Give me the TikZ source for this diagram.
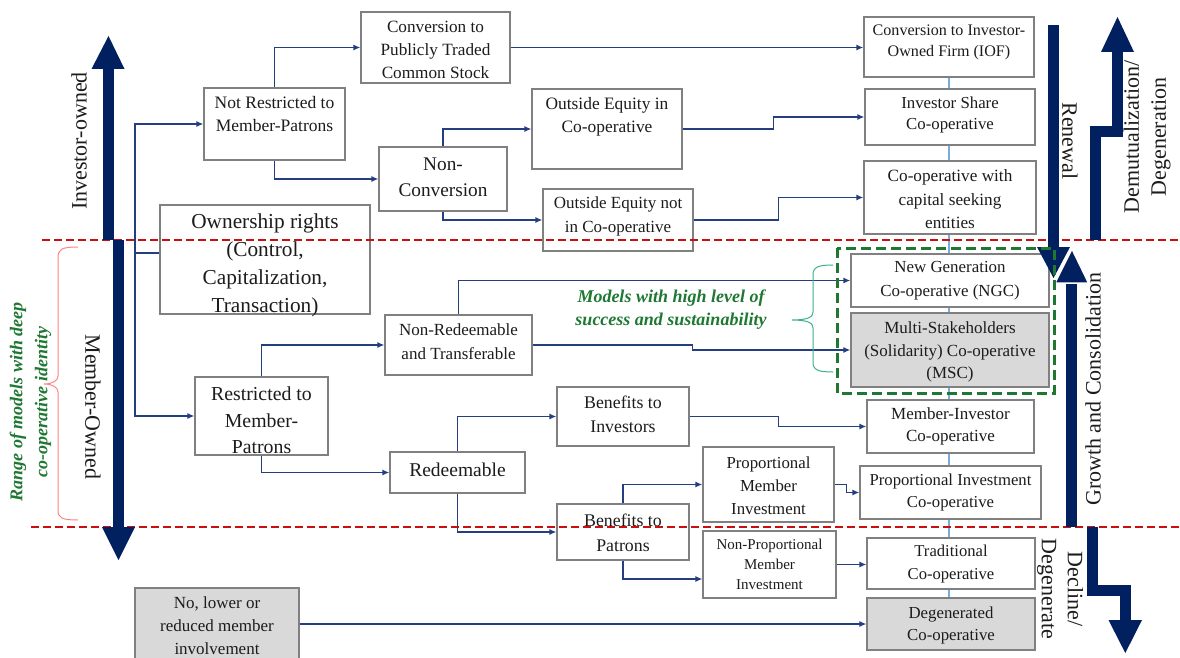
\documentclass[tikz,border=0pt]{standalone}
\usepackage{fontspec}
\setmainfont{Liberation Serif}
\usetikzlibrary{arrows.meta,calc,fit,backgrounds}

\definecolor{navy}{RGB}{0,32,96}
\definecolor{connc}{RGB}{36,62,128}
\definecolor{boxline}{RGB}{128,128,128}
\definecolor{boxgrey}{RGB}{217,217,217}
\definecolor{cutred}{RGB}{200,16,16}
\definecolor{deepgreen}{RGB}{30,120,50}
\definecolor{bracegreen}{RGB}{60,176,138}
\definecolor{bracepink}{RGB}{255,130,130}
\definecolor{vlineblue}{RGB}{120,172,218}
\definecolor{txt}{RGB}{28,28,28}

% box with its text: style, name, corner, corner, size, skip, text shift, text
\newcommand{\cbox}[8]{%
  \node[#1, fit={#3 #4}] (#2) {};
  \node[ctext, font=\fontsize{#5}{#6}\selectfont] (#2-t) at ($(#2.center)+(0,#7)$) {#8};
}

\begin{document}
\begin{tikzpicture}[x=1pt,y=-1pt,
  cbox/.style={draw=boxline, line width=1.2pt, fill=white, inner sep=0pt},
  gbox/.style={cbox, fill=boxgrey},
  ctext/.style={align=center, text=txt, inner sep=0pt},
  conn/.style={draw=connc, line width=1.3pt, -{Latex[length=7pt,width=6pt]}},
  plain/.style={draw=connc, line width=1.3pt},
  vline/.style={draw=vlineblue, line width=1.3pt},
  cut/.style={draw=cutred, line width=2pt, dash pattern=on 8pt off 4pt},
  shaft/.style={draw=navy, line width=11pt, line join=miter},
  head/.style={fill=navy},
  gdash/.style={draw=deepgreen, line width=3pt, dash pattern=on 10pt off 5pt},
  biglabel/.style={text=txt, font=\fontsize{22}{27}\selectfont, align=center, inner sep=0pt},
  greenlabel/.style={text=deepgreen, font=\bfseries\itshape\fontsize{18}{25}\selectfont, align=center, inner sep=0pt}
]
\useasboundingbox (0,0) rectangle (1180,658);
\clip (0,0) rectangle (1180,658);

% ---- boxes ----
\cbox{cbox}{own}{(160,205)}{(370,314)}{21.3}{28}{6}{Ownership rights\\(Control,\\Capitalization,\\Transaction)}
\cbox{cbox}{notr}{(204,88)}{(345,160)}{17.5}{23}{-9.5}{Not Restricted to\\Member-Patrons}
\cbox{cbox}{conv}{(361,12)}{(510,83)}{17.2}{23}{2}{Conversion to\\Publicly Traded\\Common Stock}
\cbox{cbox}{noncon}{(379,147)}{(507,211)}{19.3}{26}{-1.5}{Non-\\Conversion}
\cbox{cbox}{oein}{(532,89)}{(682,169)}{17.4}{23}{-12.5}{Outside Equity in\\Co-operative}
\cbox{cbox}{oenot}{(543,189)}{(693,251)}{17}{24}{-4}{Outside Equity not\\in Co-operative}
\cbox{cbox}{restr}{(195,377)}{(328,455)}{19.8}{26.5}{4.5}{Restricted to\\Member-\\Patrons}
\cbox{cbox}{nonred}{(385,315)}{(532,375)}{17}{24}{-3}{Non-Redeemable\\and Transferable}
\cbox{cbox}{red}{(390,452)}{(525,493)}{19.5}{26}{-3}{Redeemable}
\cbox{cbox}{beninv}{(557,387)}{(689,446)}{17.8}{24.5}{-2}{Benefits to\\Investors}
\cbox{cbox}{benpat}{(557,504)}{(689,560)}{17.8}{24.5}{1}{Benefits to\\Patrons}
\cbox{cbox}{propmem}{(703,447)}{(834,522)}{16.8}{23}{1.5}{Proportional\\Member\\Investment}
\cbox{cbox}{nonprop}{(703,531)}{(836,598)}{15}{20}{0}{Non-Proportional\\Member\\Investment}
\cbox{gbox}{nolow}{(135,588)}{(299,660)}{17}{23}{2}{No, lower or\\reduced member\\involvement}

\cbox{cbox}{iof}{(864,17)}{(1034,77)}{16.1}{21}{-4.5}{Conversion to Investor-\\Owned Firm (IOF)}
\cbox{cbox}{invshare}{(865,89)}{(1035,145)}{16.8}{21}{-2.5}{Investor Share\\Co-operative}
\cbox{cbox}{cap}{(864,161)}{(1036,234)}{17.2}{23.5}{2}{Co-operative with\\capital seeking\\entities}
\cbox{cbox}{ngc}{(851,254)}{(1049,307)}{16.9}{24}{0}{New Generation\\Co-operative (NGC)}
\cbox{gbox}{msc}{(851,313)}{(1049,387)}{17}{22.5}{2}{Multi-Stakeholders\\(Solidarity) Co-operative\\(MSC)}
\cbox{cbox}{meminv}{(867,400)}{(1034,453)}{17}{22}{0}{Member-Investor\\Co-operative}
\cbox{cbox}{propinv}{(860,466)}{(1041,519)}{16.7}{22}{0}{Proportional Investment\\Co-operative}
\cbox{cbox}{trad}{(867,538)}{(1035,589)}{16.6}{23}{1}{Traditional\\Co-operative}
\cbox{gbox}{degen}{(867,598)}{(1035,650)}{16.8}{22}{1}{Degenerated\\Co-operative}

% ---- thin spine through the right column ----
\begin{scope}[on background layer]
  \draw[vline] (iof.south) -- (iof.south |- degen.north);
\end{scope}

% ---- connectors ----
\coordinate (jn) at (135,253);
\draw[plain] (own.west |- jn) -- (jn);
\draw[conn] (jn) |- (notr.west);
\draw[conn] (jn) |- (restr.west);
\draw[conn] (notr.north) |- (conv.west);
\draw[conn] (notr.south) |- (noncon.west);
\draw[conn] (noncon.north) |- (oein.west);
\draw[conn] (noncon.south) |- (oenot.west);
\draw[conn] (conv.east) -- (conv.east -| iof.west);
\draw[conn] (oein.east) -- ++(91,0) |- (invshare.west);
\draw[conn] (oenot.east) -- ++(85,0) |- (cap.west);
\draw[conn] (restr.north) |- (nonred.west);
\draw[conn] (restr.south) |- (red.west);
\draw[conn] (nonred.north) |- (ngc.west);
\draw[conn] (nonred.east) -- ++(160,0) |- (msc.west);
\draw[conn] (red.north) |- (beninv.west);
\draw[conn] (red.south) |- (benpat.west);
\draw[conn] (beninv.east) -- ++(89,0) |- (meminv.west);
\draw[conn] (benpat.north) |- (propmem.west);
\draw[conn] (benpat.south) |- ($(nonprop.west)+(0,14.5)$);
\draw[conn] (propmem.east) -- ++(12,0) |- (propinv.west);
\draw[conn] (nonprop.east) -- (nonprop.east -| trad.west);
\draw[conn] (nolow.east) -- (nolow.east -| degen.west);

% ---- boundaries between ownership zones ----
\draw[cut] (42,240) -- (1180,240);
\draw[cut] (31,527) -- (1180,527);

% ---- big arrows, left ----
\draw[shaft] (108,240) -- (108,68.5);
\fill[head] (91.5,69) -- (124.5,69) -- (108.5,36) -- cycle;
\draw[shaft] (118.5,240) -- (118.5,527.5);
\fill[head] (102,527) -- (135,527) -- (118.5,560) -- cycle;
\node[biglabel, rotate=90] (lblinv) at (79,141) {Investor-owned};
\node[biglabel, rotate=-90] (lblmem) at (93,407) {Member-Owned};

% ---- big arrows, right ----
\draw[shaft] (1053.5,25) -- (1053.5,247.5);
\fill[head] (1037,247) -- (1070,247) -- (1053.5,278) -- cycle;
\draw[shaft] (1071.5,527) -- (1071.5,283.5);
\filldraw[fill=navy, draw=white, line width=1.5pt] (1055,283) -- (1088.5,283) -- (1072,249) -- cycle;
\draw[shaft] (1095.5,240) -- (1095.5,132) -- (1117.5,132) -- (1117.5,52.5);
\fill[head] (1101,52) -- (1134,52) -- (1117.5,17) -- cycle;
\draw[shaft] (1092,527) -- (1092,590) -- (1125.5,590) -- (1125.5,620.5);
\fill[head] (1108.5,620) -- (1142,620) -- (1125.3,653) -- cycle;

\node[biglabel, rotate=-90] (lblren) at (1070,141) {Renewal};
\node[biglabel, rotate=90] (lblgro) at (1093,389) {Growth and Consolidation};
\node[biglabel, rotate=90] (lbldem) at (1147,137) {Demutualization/\\Degeneration};
\node[biglabel, rotate=-90, font=\fontsize{22}{26}\selectfont] (lbldec) at (1060,589) {Decline/\\Degenerate};

% ---- braces and highlight ----
\draw[bracepink, line width=1pt]
  (78,247) .. controls (62,247) and (58,249) .. (58,258) -- (58,376)
  .. controls (58,381) and (52,384) .. (44,384)
  .. controls (52,384) and (58,387) .. (58,392) -- (58,510)
  .. controls (58,518) and (62,520) .. (78,520);
\node[greenlabel, rotate=90] (lblrange) at (30.5,402) {Range of models with deep\\co-operative identity};

\draw[bracegreen, line width=1pt]
  (833,265) .. controls (818,265) and (813,267) .. (813,275) -- (813,312)
  .. controls (813,317) and (808,320) .. (792,320)
  .. controls (808,320) and (813,323) .. (813,328) -- (813,362)
  .. controls (813,370) and (818,372) .. (833,372);
\node[greenlabel, font=\bfseries\itshape\fontsize{18}{23}\selectfont] (lblmodels) at (671,309.5) {Models with high level of\\success and sustainability};

\draw[gdash] (837,248) rectangle (1054,393);
\end{tikzpicture}
\end{document}
